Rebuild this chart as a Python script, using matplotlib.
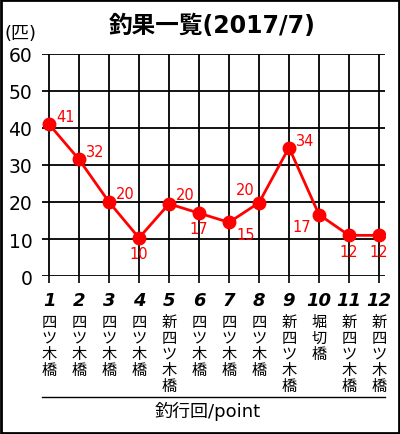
import matplotlib

matplotlib.use("Agg")
import matplotlib.pyplot as plt
from matplotlib.lines import Line2D
from matplotlib.patches import Rectangle

plt.rcParams["font.family"] = ["Noto Sans CJK JP", "DejaVu Sans"]
LATIN_FIRST = ["DejaVu Sans", "Noto Sans CJK JP"]

# 釣行回ごとのデータ
points = list(range(1, 13))
catch = [41, 31.5, 20, 10.3, 19.5, 17, 14.5, 19.8, 34.7, 16.6, 11, 11]
labels = ["41", "32", "20", "10", "20", "17", "15", "20", "34", "17", "12", "12"]
places = ["四ツ木橋", "四ツ木橋", "四ツ木橋", "四ツ木橋", "新四ツ木橋", "四ツ木橋",
          "四ツ木橋", "四ツ木橋", "新四ツ木橋", "堀切橋", "新四ツ木橋", "新四ツ木橋"]
yticks = [0, 10, 20, 30, 40, 50, 60]

# ラベルの位置 (dx, dy, ha, va) 単位: points
offsets = [(5, 0, "left", "bottom"), (5, 0, "left", "bottom"), (5, 1, "left", "bottom"),
           (0, -6, "center", "top"), (5, 1, "left", "bottom"), (0, -6, "center", "top"),
           (5, -3, "left", "top"), (-3, 4, "right", "bottom"), (5, 0, "left", "bottom"),
           (-6, -3, "right", "top"), (0, -6, "center", "top"), (0, -6, "center", "top")]

fig = plt.figure(figsize=(4, 4.35), dpi=100)
ax = fig.add_axes([0.105, 0.363, 0.8575, 0.511])

ax.plot(points, catch, color="#ff0000", lw=2, marker="o", ms=9, zorder=3)
for x, y, t, (dx, dy, ha, va) in zip(points, catch, labels, offsets):
    ax.annotate(t, (x, y), xytext=(dx, dy), textcoords="offset points",
                ha=ha, va=va, color="#ff0000", fontsize=10.5, family="DejaVu Sans",
                zorder=4)

ax.set_xlim(0.767, 12.2)
ax.set_ylim(0, 60)
ax.set_yticks(yticks)
ax.set_xticks(points)
ax.grid(True, color="black", lw=1.3)
ax.set_axisbelow(True)
for s in ax.spines.values():
    s.set_visible(False)
ax.tick_params(axis="y", length=0, pad=7, labelsize=13.5)
ax.tick_params(axis="x", length=5, width=1.2, color="black", pad=6)
for lab in ax.get_yticklabels():
    lab.set_family("DejaVu Sans")
ax.set_xticklabels([str(p) for p in points], fontsize=13, fontweight="bold",
                   fontstyle="italic", family="DejaVu Sans")

for x, name in zip(points, places):
    ax.text(x, -0.165, "\n".join(name), transform=ax.get_xaxis_transform(),
            ha="center", va="top", fontsize=11, linespacing=0.93)

fig.text(0.53, 0.94, "釣果一覧(2017/7)", ha="center", va="center",
         fontsize=17, fontweight="bold", family=LATIN_FIRST)
fig.text(0.012, 0.922, "(匹)", ha="left", va="center", fontsize=13,
         family=LATIN_FIRST)

fig.add_artist(Line2D([0.105, 0.9625], [0.085, 0.085], color="black", lw=1))
fig.text(0.518, 0.053, "釣行回/point", ha="center", va="center", fontsize=13,
         family=LATIN_FIRST)

fig.add_artist(Rectangle((0.002, 0.002), 0.996, 0.996, fill=False,
                         edgecolor="black", lw=2, transform=fig.transFigure))

fig.savefig("out.png", dpi=100)
